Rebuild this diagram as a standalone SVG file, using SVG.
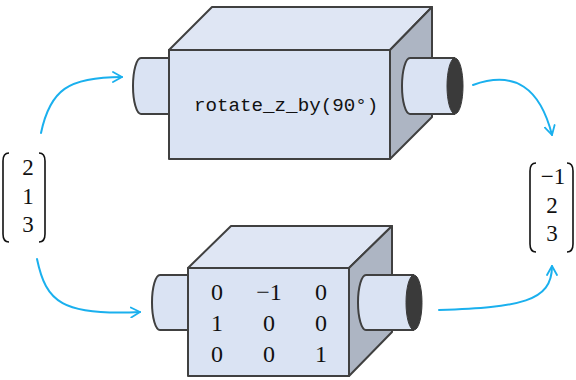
<svg xmlns="http://www.w3.org/2000/svg" width="576" height="380" viewBox="0 0 576 380">
  <defs>
    <marker id="arrow" viewBox="0 0 12 12" refX="10" refY="6" markerWidth="12" markerHeight="12" markerUnits="userSpaceOnUse" orient="auto">
      <path d="M1,1 L10,6 L1,11" fill="none" stroke="#1ab0ee" stroke-width="1.8" stroke-linecap="round" stroke-linejoin="round"/>
    </marker>
  </defs>
  <style>
    .front { fill: #dae3f3; stroke: #404040; stroke-width: 2; stroke-linejoin: round; }
    .top { fill: #dfe6f4; stroke: #404040; stroke-width: 2; stroke-linejoin: round; }
    .side { fill: #adb5c3; stroke: #404040; stroke-width: 2; stroke-linejoin: round; }
    .pipe { fill: #dae3f3; stroke: #404040; stroke-width: 2; }
    .hole { fill: #3a3a3a; stroke: #3a3a3a; stroke-width: 1; }
    .link { fill: none; stroke: #1ab0ee; stroke-width: 2; stroke-linecap: round; marker-end: url(#arrow); }
    .bracket { fill: none; stroke: #111; stroke-width: 1.6; }
    .num { font-family: "Liberation Serif", "DejaVu Serif", serif; fill: #111; text-anchor: middle; }
    .vec { font-size: 23px; }
    .mat { font-size: 24px; }
    .code { font-family: "Liberation Mono", "DejaVu Sans Mono", monospace; font-size: 19.2px; fill: #111; }
  </style>

  <!-- input vector -->
  <g id="input-vector">
    <path class="bracket" d="M9,153 Q3,153 3,161 L3,234 Q3,242 9,242"/>
    <path class="bracket" d="M39,153 Q45,153 45,161 L45,234 Q45,242 39,242"/>
    <text class="num vec" x="28" y="175">2</text>
    <text class="num vec" x="28" y="204">1</text>
    <text class="num vec" x="28" y="232">3</text>
  </g>

  <!-- output vector -->
  <g id="output-vector">
    <path class="bracket" d="M536,163 Q530,163 530,171 L530,244 Q530,252 536,252"/>
    <path class="bracket" d="M567,163 Q573,163 573,171 L573,244 Q573,252 567,252"/>
    <text class="num vec" x="553" y="184">−1</text>
    <text class="num vec" x="552" y="213">2</text>
    <text class="num vec" x="552" y="241">3</text>
  </g>

  <!-- function box -->
  <g id="function-box">
    <path class="pipe" d="M170,58 L141,58 A8,28 0 0 0 141,114 L170,114 Z"/>
    <polygon class="top" points="169,50 212,7 432,7 390,50"/>
    <polygon class="side" points="390,50 432,7 432,117 390,159"/>
    <rect class="front" x="169" y="50" width="221" height="109"/>
    <path class="pipe" d="M455,58 L410,58 A8,28 0 0 0 410,114 L455,114"/>
    <ellipse class="hole" cx="455" cy="86" rx="8" ry="28"/>
    <text class="code" x="194" y="111">rotate_z_by(90°)</text>
  </g>

  <!-- matrix box -->
  <g id="matrix-box">
    <path class="pipe" d="M189,275 L160,275 A8,27.5 0 0 0 160,330 L189,330 Z"/>
    <polygon class="top" points="188,268 231,226 392,226 349,268"/>
    <polygon class="side" points="349,268 392,226 392,332 349,376"/>
    <rect class="front" x="188" y="268" width="161" height="108"/>
    <path class="pipe" d="M414,275 L366,275 A8,27.5 0 0 0 366,330 L414,330"/>
    <ellipse class="hole" cx="414" cy="302.5" rx="8" ry="27.5"/>
    <text class="num mat" x="217" y="300">0</text>
    <text class="num mat" x="269" y="300">−1</text>
    <text class="num mat" x="321" y="300">0</text>
    <text class="num mat" x="217" y="331">1</text>
    <text class="num mat" x="269" y="331">0</text>
    <text class="num mat" x="321" y="331">0</text>
    <text class="num mat" x="217" y="362">0</text>
    <text class="num mat" x="269" y="362">0</text>
    <text class="num mat" x="321" y="362">1</text>
  </g>

  <!-- connectors -->
  <g id="connectors">
    <path class="link" d="M41,133 C50,90 68,77 122,77"/>
    <path class="link" d="M473,85 C515,70 540,88 552,135"/>
    <path class="link" d="M37,259 C46,302 62,316 140,312"/>
    <path class="link" d="M439,310 C520,307 552,302 552,266"/>
  </g>
</svg>
